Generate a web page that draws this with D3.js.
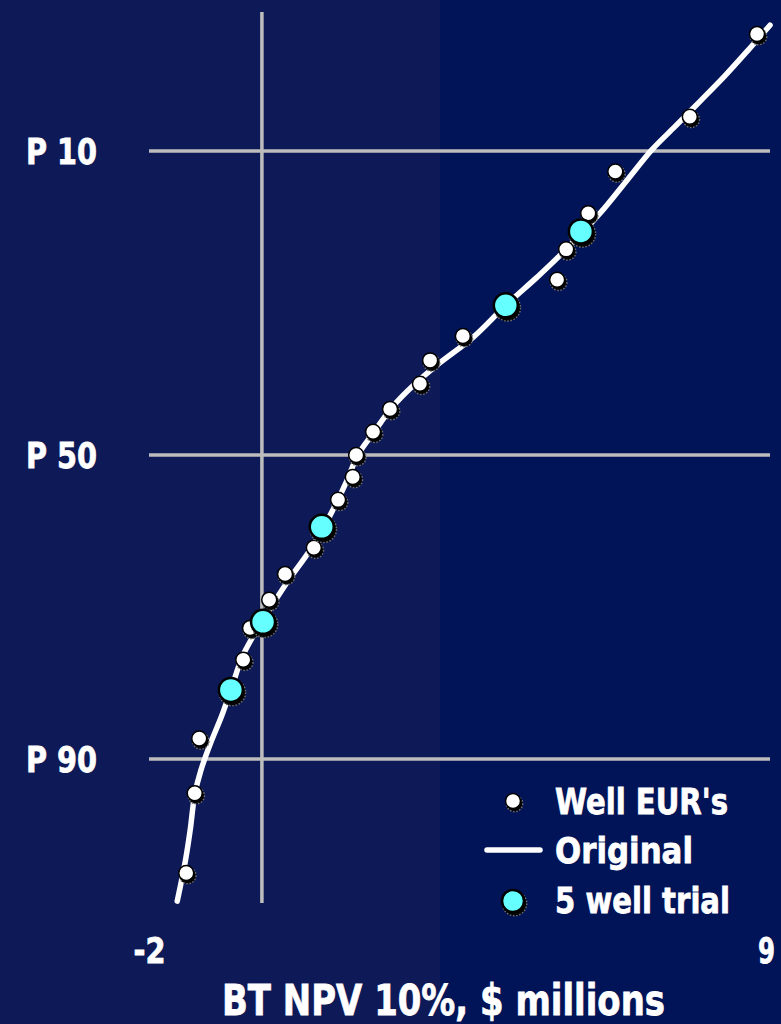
<!DOCTYPE html>
<html>
<head>
<meta charset="utf-8">
<script src="https://cdn.jsdelivr.net/npm/d3@7"></script>
<style>
  html, body { margin: 0; padding: 0; background: #0d1a57; }
  svg { display: block; }
  text { font-family: "DejaVu Sans", "Liberation Sans", sans-serif; font-weight: bold; fill: #ffffff;
         stroke: #ffffff; stroke-width: 0.8px; }
</style>
</head>
<body>
<svg id="chart" width="781" height="1024"></svg>
<script>
// Well EUR's: BT NPV 10% ($ millions) and cumulative probability (P, %)
const wellNPV = [8.77, 7.58, 6.26, 5.78, 5.39, 5.23, 3.56, 2.98, 2.80, 2.27, 1.97, 1.67,
                 1.61, 1.35, 0.92, 0.41, 0.13, -0.21, -0.33, -1.11, -1.19, -1.34];
const wellP   = [3.8, 7.7, 11.6, 15.4, 19.3, 23.0, 30.8, 34.5, 38.2, 42.3, 46.1, 50.0,
                 53.7, 57.5, 65.2, 69.2, 72.9, 76.7, 80.6, 88.4, 92.3, 96.1];

// 5 well trial
const trialNPV = [5.65, 4.32, 1.06, 0.02, -0.55];
const trialP   = [17.3, 26.4, 61.9, 75.9, 83.9];

// Original distribution curve
const originalNPV = [-1.50, -1.36, -1.27, -1.19, -1.08, -0.92, -0.71, -0.55, -0.33, 0.00,
                     0.44, 0.85, 1.21, 1.51, 1.70, 1.99, 2.30, 2.69, 3.15, 3.74, 4.32,
                     4.87, 5.28, 5.99, 6.49, 6.91, 7.32, 7.76, 8.20, 8.61, 9.00];
const originalP   = [97.0, 95.7, 94.3, 92.4, 90.8, 88.9, 86.4, 83.9, 80.0, 75.9,
                     70.5, 65.6, 60.0, 54.2, 50.0, 46.1, 42.1, 38.4, 34.9, 31.0, 26.4,
                     22.7, 20.0, 15.4, 12.2, 9.9, 8.3, 6.8, 5.5, 4.4, 3.5];

const pTicks = [10, 50, 90];
const xTicks = [-2, 9];
const xTitle = "BT NPV 10%, $ millions";
const legendLabels = ["Well EUR's", "Original", "5 well trial"];

// Inverse standard normal CDF (Acklam's rational approximation) for the probability axis
function probit(p) {
  const a = [-3.969683028665376e+01, 2.209460984245205e+02, -2.759285104469687e+02,
              1.383577518672690e+02, -3.066479806614716e+01, 2.506628277459239e+00];
  const b = [-5.447609879822406e+01, 1.615858368580409e+02, -1.556989798598866e+02,
              6.680131188771972e+01, -1.328068155288572e+01];
  const c = [-7.784894002430293e-03, -3.223964580411365e-01, -2.400758277161838e+00,
             -2.549732539343734e+00, 4.374664141464968e+00, 2.938163982698783e+00];
  const d = [7.784695709041462e-03, 3.224671290700398e-01, 2.445134137142996e+00,
             3.754408661907416e+00];
  const pl = 0.02425, ph = 1 - pl;
  let q, r;
  if (p < pl) {
    q = Math.sqrt(-2 * Math.log(p));
    return (((((c[0]*q+c[1])*q+c[2])*q+c[3])*q+c[4])*q+c[5]) / ((((d[0]*q+d[1])*q+d[2])*q+d[3])*q+1);
  } else if (p <= ph) {
    q = p - 0.5; r = q * q;
    return (((((a[0]*r+a[1])*r+a[2])*r+a[3])*r+a[4])*r+a[5])*q / (((((b[0]*r+b[1])*r+b[2])*r+b[3])*r+b[4])*r+1);
  } else {
    q = Math.sqrt(-2 * Math.log(1 - p));
    return -(((((c[0]*q+c[1])*q+c[2])*q+c[3])*q+c[4])*q+c[5]) / ((((d[0]*q+d[1])*q+d[2])*q+d[3])*q+1);
  }
}

const svg = d3.select("#chart");
const W = 781, H = 1024;

// background panels
svg.append("rect").attr("x", 0).attr("y", 0).attr("width", 440).attr("height", H).attr("fill", "#0e1a58");
svg.append("rect").attr("x", 440).attr("y", 0).attr("width", W - 440).attr("height", H).attr("fill", "#011457");

const x = d3.scaleLinear().domain([-2, 9]).range([149, 770]);
const z = d3.scaleLinear().domain([probit(0.1), probit(0.9)]).range([151, 759]);
const y = p => z(probit(p / 100));

// grid
const grid = svg.append("g").attr("stroke", "#bdbdbd").attr("stroke-width", 3.5);
grid.selectAll("line.h").data(pTicks).join("line").attr("class", "h")
  .attr("x1", x(-2)).attr("x2", x(9))
  .attr("y1", d => y(d)).attr("y2", d => y(d));
grid.append("line")
  .attr("x1", x(0)).attr("x2", x(0))
  .attr("y1", 12).attr("y2", 903);

// probability axis labels
const yAxis = svg.append("g")
  .call(d3.axisLeft(z)
    .tickValues(pTicks.map(p => probit(p / 100)))
    .tickFormat((d, i) => "P " + pTicks[i])
    .tickSize(0));
yAxis.select(".domain").remove();
yAxis.selectAll("text")
  .attr("x", 26).attr("dy", 12)
  .attr("text-anchor", "start")
  .attr("fill", "#fff")
  .style("font-size", "36px")
  .attr("textLength", 71).attr("lengthAdjust", "spacingAndGlyphs");

// NPV axis labels
const xAxis = svg.append("g").attr("transform", "translate(0,963)")
  .call(d3.axisBottom(x).tickValues(xTicks).tickFormat(d => String(d)).tickSize(0));
xAxis.select(".domain").remove();
xAxis.selectAll("text")
  .attr("y", 0).attr("dy", 0)
  .attr("dx", d => d < 0 ? 0 : -4)
  .attr("fill", "#fff")
  .style("font-size", "35px")
  .attr("textLength", d => d < 0 ? 32 : 17)
  .attr("lengthAdjust", "spacingAndGlyphs");

svg.append("text")
  .attr("x", 222).attr("y", 1015)
  .style("font-size", "42px")
  .attr("textLength", 443).attr("lengthAdjust", "spacingAndGlyphs")
  .text(xTitle);

// original curve
const lineData = originalNPV.map((v, i) => [v, originalP[i]]);
svg.append("path")
  .datum(lineData)
  .attr("fill", "none")
  .attr("stroke", "#ffffff")
  .attr("stroke-width", 5.5)
  .attr("stroke-linecap", "round")
  .attr("d", d3.line().x(d => x(d[0])).y(d => y(d[1])).curve(d3.curveCatmullRom.alpha(0.5)));

// marker with notched dark shadow
function marker(g, cx, cy, r, fill, sw) {
  g.append("circle")
    .attr("cx", cx + 1.5).attr("cy", cy + 2.5).attr("r", r + sw / 2)
    .attr("fill", "#050505")
    .attr("stroke", "#6e6e6e").attr("stroke-width", 1.4)
    .attr("stroke-dasharray", "1.6 1.6");
  g.append("circle")
    .attr("cx", cx).attr("cy", cy).attr("r", r)
    .attr("fill", fill)
    .attr("stroke", "#000").attr("stroke-width", sw);
}

const wells = svg.append("g");
wellNPV.forEach((v, i) => marker(wells, x(v), y(wellP[i]), 7.5, "#ffffff", 1.5));

const trials = svg.append("g");
trialNPV.forEach((v, i) => marker(trials, x(v), y(trialP[i]), 12, "#66ffff", 2.5));

// legend
const legend = svg.append("g");
marker(legend, 513, 801, 7.5, "#ffffff", 1.5);
legend.append("line")
  .attr("x1", 487).attr("x2", 540).attr("y1", 850).attr("y2", 850)
  .attr("stroke", "#fff").attr("stroke-width", 5.5).attr("stroke-linecap", "round");
marker(legend, 513, 901, 11, "#66ffff", 2.5);

const legendY = [814, 863, 913];
const legendW = [173, 138, 175];
legend.selectAll("text.lg").data(legendLabels).join("text").attr("class", "lg")
  .attr("x", 555).attr("y", (d, i) => legendY[i])
  .style("font-size", "36px")
  .attr("textLength", (d, i) => legendW[i]).attr("lengthAdjust", "spacingAndGlyphs")
  .text(d => d);
</script>
</body>
</html>
